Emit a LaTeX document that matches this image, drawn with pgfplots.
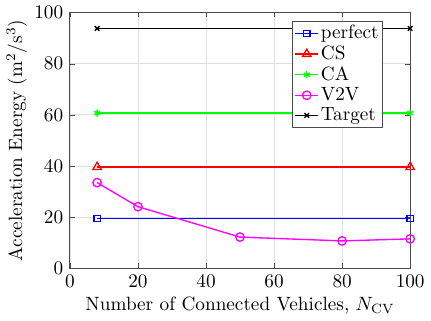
\documentclass[border=0pt]{standalone}
\usepackage{pgfplots}
\pgfplotsset{compat=1.18}
\definecolor{mag}{rgb}{1,0,1}
\definecolor{grn}{rgb}{0,1,0}
\definecolor{blu}{rgb}{0,0,1}
\definecolor{rd}{rgb}{1,0,0}
\begin{document}
\begin{tikzpicture}
\begin{axis}[
  scale only axis,
  width=177pt, height=133pt,
  xmin=0, xmax=100, ymin=0, ymax=100,
  xtick={0,20,40,60,80,100}, ytick={0,20,40,60,80,100},
  grid=major, grid style={gray!25, line width=0.4pt},
  axis line style={black!70, line width=0.6pt},
  tick style={black!70},
  tick align=inside,
  major tick length=2.5pt,
  xlabel={Number of Connected Vehicles, $N_{\mathrm{CV}}$},
  ylabel={Acceleration Energy (m$^2$/s$^3$)},
  xlabel style={yshift=2pt},
  ylabel style={yshift=-3pt},
  legend style={at={(0.92,0.969)}, anchor=north east, draw=black!70, line width=0.5pt, inner sep=1pt, row sep=0pt, font=\normalsize, nodes={inner xsep=1pt, inner ysep=1.1pt}},
  legend cell align=left,
  legend image code/.code={\draw[mark repeat=2,mark phase=2] plot coordinates {(0cm,0cm) (0.21cm,0cm) (0.42cm,0cm)};},
]
\addplot[blu, line width=0.7pt, mark=square, mark size=1.6pt] coordinates {(8,19.4) (100,19.4)};
\addlegendentry{perfect}
\addplot[rd, line width=0.7pt, mark=triangle, mark size=2.5pt] coordinates {(8,39.6) (100,39.6)};
\addlegendentry{CS}
\addplot[grn, line width=0.7pt, mark=asterisk, mark size=1.8pt] coordinates {(8,60.7) (100,60.7)};
\addlegendentry{CA}
\addplot[mag, line width=0.7pt, mark=o, mark size=2.2pt] coordinates {(8,33.5) (20,24.1) (50,12.2) (80,10.7) (100,11.5)};
\addlegendentry{V2V}
\addplot[black, line width=0.7pt, mark=x, mark size=1.7pt] coordinates {(8,93.8) (100,93.8)};
\addlegendentry{Target}
\end{axis}
\end{tikzpicture}
\end{document}
